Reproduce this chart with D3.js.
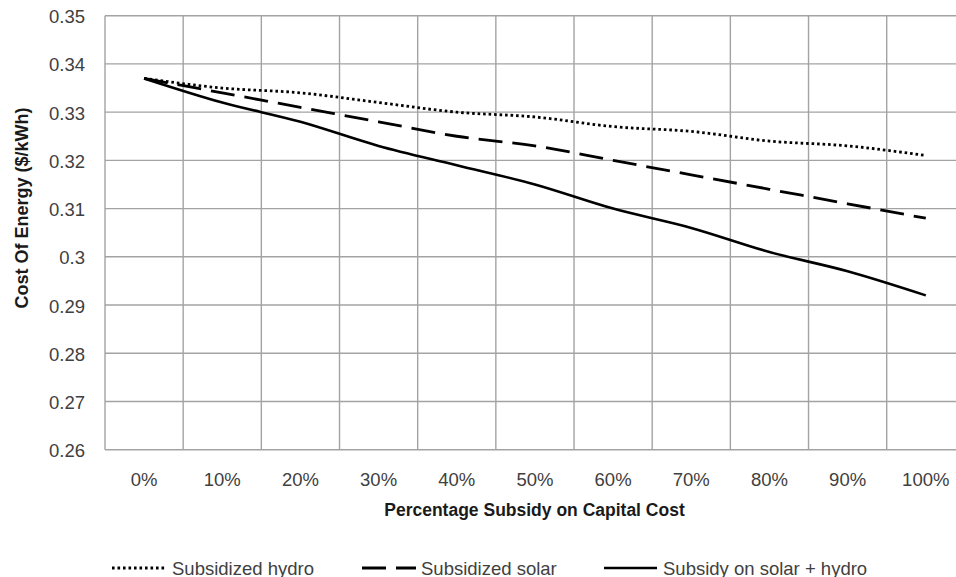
<!DOCTYPE html>
<html>
<head>
<meta charset="utf-8">
<script src="https://cdn.jsdelivr.net/npm/d3@7/dist/d3.min.js"></script>
<style>
  html, body { margin: 0; padding: 0; background: #fff; overflow: hidden; }
  svg { display: block; }
  text { font-family: "Liberation Sans", Arial, sans-serif; }
</style>
</head>
<body>
<svg id="chart" width="956" height="577"></svg>
<script>
const categories = ["0%", "10%", "20%", "30%", "40%", "50%", "60%", "70%", "80%", "90%", "100%"];
const subsidizedHydro = [0.337, 0.335, 0.334, 0.332, 0.330, 0.329, 0.327, 0.326, 0.324, 0.323, 0.321];
const subsidizedSolar = [0.337, 0.334, 0.331, 0.328, 0.325, 0.323, 0.320, 0.317, 0.314, 0.311, 0.308];
const subsidyBoth    = [0.337, 0.332, 0.328, 0.323, 0.319, 0.315, 0.310, 0.306, 0.301, 0.297, 0.292];
const yTicks = [0.26, 0.27, 0.28, 0.29, 0.30, 0.31, 0.32, 0.33, 0.34, 0.35];
const yTickLabels = ["0.26", "0.27", "0.28", "0.29", "0.3", "0.31", "0.32", "0.33", "0.34", "0.35"];
const seriesNames = ["Subsidized hydro", "Subsidized solar", "Subsidy on solar + hydro"];
const xTitle = "Percentage Subsidy on Capital Cost";
const yTitle = "Cost Of Energy ($/kWh)";

(function () {
const series = [
  { name: seriesNames[0], values: subsidizedHydro, dash: "2.6,2.9", width: 2.8 },
  { name: seriesNames[1], values: subsidizedSolar, dash: "24,10", width: 2.8 },
  { name: seriesNames[2], values: subsidyBoth, dash: null, width: 2.6 }
];

const svg = d3.select("#chart");
const pLeft = 105, pTop = 15.7, pBottom = 449.7, pRight = 105 + 78.17 * 11;
const gridColor = "#a3a3a3";
const textColor = "#404040";

const x = d3.scaleBand().domain(categories).range([pLeft, pRight]).paddingInner(0).paddingOuter(0);
const y = d3.scaleLinear().domain([0.26, 0.35]).range([pBottom, pTop]);

// horizontal gridlines
svg.append("g").selectAll("line").data(yTicks).join("line")
  .attr("x1", pLeft).attr("x2", pRight)
  .attr("y1", d => y(d)).attr("y2", d => y(d))
  .attr("stroke", gridColor).attr("stroke-width", 1.4);

// vertical gridlines at category boundaries
const boundaries = categories.map(c => x(c)).concat([x(categories[categories.length - 1]) + x.bandwidth()]);
svg.append("g").selectAll("line").data(boundaries).join("line")
  .attr("x1", d => d).attr("x2", d => d)
  .attr("y1", pTop).attr("y2", pBottom)
  .attr("stroke", gridColor).attr("stroke-width", 1.4);

// y tick labels
svg.append("g").selectAll("text").data(yTicks).join("text")
  .attr("x", 85).attr("y", d => y(d) + 1)
  .attr("text-anchor", "end").attr("dominant-baseline", "central")
  .attr("font-size", 18.5).attr("fill", textColor)
  .text((d, i) => yTickLabels[i]);

// x tick labels
svg.append("g").selectAll("text").data(categories).join("text")
  .attr("x", d => x(d) + x.bandwidth() / 2).attr("y", 479)
  .attr("text-anchor", "middle").attr("dominant-baseline", "central")
  .attr("font-size", 18.5).attr("fill", textColor)
  .text(d => d);

// axis titles
svg.append("text")
  .attr("x", 534.5).attr("y", 510)
  .attr("text-anchor", "middle").attr("dominant-baseline", "central")
  .attr("font-size", 17.5).attr("font-weight", "bold").attr("fill", "#1a1a1a")
  .text(xTitle);

svg.append("text")
  .attr("transform", "translate(22,208) rotate(-90)")
  .attr("text-anchor", "middle").attr("dominant-baseline", "central")
  .attr("font-size", 18).attr("font-weight", "bold").attr("fill", "#1a1a1a")
  .text(yTitle);

// lines
const line = d3.line()
  .x((d, i) => x(categories[i]) + x.bandwidth() / 2)
  .y(d => y(d))
  .curve(d3.curveMonotoneX);

svg.append("g").selectAll("path").data(series).join("path")
  .attr("d", d => line(d.values))
  .attr("fill", "none")
  .attr("stroke", "#000")
  .attr("stroke-width", d => d.width)
  .attr("stroke-dasharray", d => d.dash)
  .attr("stroke-linecap", "butt");

// legend
const legendItems = [
  { s: series[0], x1: 112, x2: 167, tx: 172 },
  { s: series[1], x1: 362, x2: 416, tx: 421 },
  { s: series[2], x1: 604, x2: 657, tx: 663 }
];
const ly = 568;
const lg = svg.append("g");
legendItems.forEach(it => {
  lg.append("line")
    .attr("x1", it.x1).attr("x2", it.x2).attr("y1", ly).attr("y2", ly)
    .attr("stroke", "#000").attr("stroke-width", it.s.width)
    .attr("stroke-dasharray", it.s.dash);
  lg.append("text")
    .attr("x", it.tx).attr("y", ly)
    .attr("dominant-baseline", "central")
    .attr("font-size", 18.5).attr("fill", textColor)
    .text(it.s.name);
});
})();
</script>
</body>
</html>
